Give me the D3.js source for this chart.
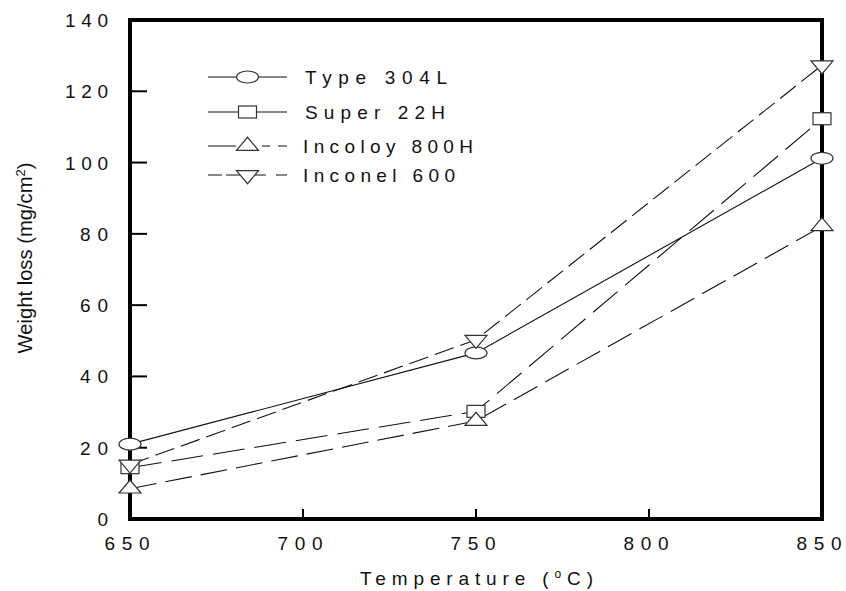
<!DOCTYPE html>
<html><head><meta charset="utf-8">
<script src="https://cdn.jsdelivr.net/npm/d3@7"></script>
<style>body{margin:0;background:#fff}svg{display:block;font-family:"Liberation Sans",Arial,sans-serif}</style>
</head><body><svg id="c" width="846" height="591"></svg>
<script>
const temps = [650, 750, 850];
const type304L = [21, 46.6, 101.2];
const super22H = [14.4, 30.2, 112.3];
const incoloy800H = [8.5, 27.5, 82.1];
const inconel600 = [15.3, 50.3, 127.3];
const seriesNames = ["Type 304L", "Super 22H", "Incoloy 800H", "Inconel 600"];
const xTicks = [650, 700, 750, 800, 850];
const yTicks = [0, 20, 40, 60, 80, 100, 120, 140];

const series = [
  {name: seriesNames[0], vals: type304L, marker: "ellipse", dash: null, legDash: null},
  {name: seriesNames[1], vals: super22H, marker: "square", dash: "32,10", legDash: null},
  {name: seriesNames[2], vals: incoloy800H, marker: "up", dash: "27,9", legDash: "28,26,8,8,9"},
  {name: seriesNames[3], vals: inconel600, marker: "down", dash: "20,7", legDash: "14,4,40,10,12"}
];

const svg = d3.select("#c");
const L = 130, R = 822, T = 20, B = 519;
const x = d3.scaleLinear().domain([650, 850]).range([L, R]);
const y = d3.scaleLinear().domain([0, 140]).range([B, T]);

function drawMarker(g, type, cx, cy) {
  let el;
  if (type === "ellipse") el = g.append("ellipse").attr("cx", cx).attr("cy", cy).attr("rx", 11).attr("ry", 6);
  else if (type === "square") el = g.append("rect").attr("x", cx - 9).attr("y", cy - 6).attr("width", 18).attr("height", 12);
  else if (type === "up") el = g.append("path").attr("d", `M${cx-11},${cy+4.3}L${cx+11},${cy+4.3}L${cx},${cy-8.7}Z`);
  else el = g.append("path").attr("d", `M${cx-11},${cy-4.3}L${cx+11},${cy-4.3}L${cx},${cy+8.7}Z`);
  el.attr("fill", "#fff").attr("stroke", "#333").attr("stroke-width", 1.2);
}

function spaced(sel, target) {
  if (sel.text().length > 1) sel.attr("textLength", target).attr("lengthAdjust", "spacing");
  return sel;
}

// lines
const line = d3.line().x((d, i) => x(temps[i])).y(d => y(d));
series.forEach(s => {
  svg.append("path").attr("d", line(s.vals)).attr("fill", "none")
    .attr("stroke", "#111").attr("stroke-width", 1.1)
    .attr("stroke-dasharray", s.dash);
});

// frame
svg.append("path").attr("d", `M${L},${T}H${R}V${B}H${L}Z`).attr("fill", "none")
  .attr("stroke", "#000").attr("stroke-width", 4).attr("stroke-linejoin", "miter");

// y ticks + labels
yTicks.forEach(v => {
  if (v > 0 && v < 140) svg.append("line").attr("x1", L).attr("x2", L + 17).attr("y1", y(v)).attr("y2", y(v)).attr("stroke", "#000").attr("stroke-width", 2);
  const s = String(v);
  const target = s.length === 3 ? 43 : (s.length === 2 ? 28 : 0);
  const t = svg.append("text").attr("y", y(v) + 7).attr("font-size", 19).attr("fill", "#111").text(s);
  spaced(t, target);
  const w = s.length > 1 ? target : t.node().getComputedTextLength();
  t.attr("x", 108 - w);
});
// x ticks + labels
xTicks.forEach(v => {
  if (v > 650 && v < 850) svg.append("line").attr("x1", x(v)).attr("x2", x(v)).attr("y1", B).attr("y2", B - 10).attr("stroke", "#000").attr("stroke-width", 2);
  const t = svg.append("text").attr("y", 550).attr("font-size", 19).attr("fill", "#111").text(v);
  spaced(t, 45);
  t.attr("x", x(v) - 3 - 22.5);
});

// markers
series.forEach(s => {
  s.vals.forEach((v, i) => drawMarker(svg, s.marker, x(temps[i]), y(v)));
});

// x axis title
const xt = svg.append("text").attr("y", 585).attr("font-size", 19).attr("fill", "#111");
xt.append("tspan").text("Temperature (");
xt.append("tspan").attr("font-size", 12).attr("dy", -7).text("o");
xt.append("tspan").attr("dy", 7).text("C)");
{
  const w = xt.node().getComputedTextLength();
  const ls = (233 - w) / 15;
  xt.attr("letter-spacing", ls).attr("x", 360);
}

// y axis title
const yt = svg.append("text").attr("transform", "translate(32,258) rotate(-90)").attr("text-anchor", "middle")
  .attr("font-size", 20).attr("fill", "#111");
yt.append("tspan").text("Weight loss (mg/cm");
yt.append("tspan").attr("font-size", 13).attr("dy", -7).text("2");
yt.append("tspan").attr("dy", 7).text(")");
{
  const w = yt.node().getComputedTextLength();
  const fs = 20 * 191 / w;
  yt.attr("font-size", fs);
}

// legend
const legY = [77, 112, 146, 175];
const legW = [142, 140, 170, 152];
const legX = [305, 305, 303, 303];
series.forEach((s, i) => {
  const g = svg.append("g");
  g.append("line").attr("x1", 208).attr("x2", 287).attr("y1", legY[i]).attr("y2", legY[i])
    .attr("stroke", "#111").attr("stroke-width", 1.1).attr("stroke-dasharray", s.legDash);
  drawMarker(g, s.marker, 247.5, legY[i]);
  const t = g.append("text").attr("x", legX[i]).attr("y", legY[i] + 7).attr("font-size", 19)
    .attr("fill", "#111").text(s.name);
  spaced(t, legW[i]);
});
</script></body></html>
